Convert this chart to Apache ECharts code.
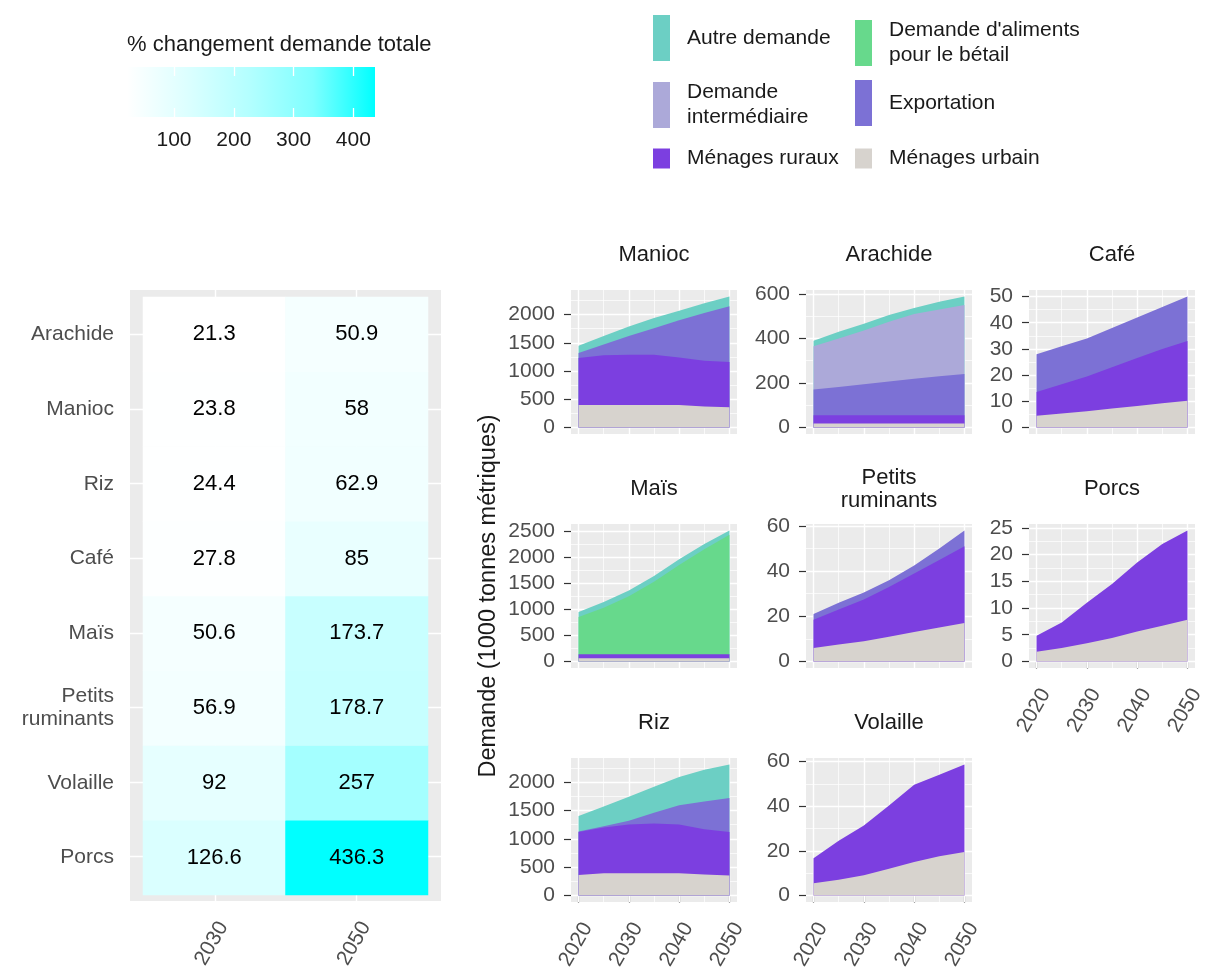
<!DOCTYPE html>
<html>
<head>
<meta charset="utf-8">
<script src="https://cdn.jsdelivr.net/npm/echarts@6/dist/echarts.min.js"></script>
<style>
  html, body { margin: 0; padding: 0; background: #fff; }
  #chart { width: 1207px; height: 972px; }
</style>
</head>
<body>
<div id="chart"></div>
<script>
// % de changement de la demande totale (carte de chaleur), du bas vers le haut
const heatProducts = ['Porcs', 'Volaille', 'Petits ruminants', 'Maïs', 'Café', 'Riz', 'Manioc', 'Arachide'];
const heatYears = ['2030', '2050'];
const change2030 = [126.6, 92, 56.9, 50.6, 27.8, 24.4, 23.8, 21.3];
const change2050 = [436.3, 257, 178.7, 173.7, 85, 62.9, 58, 50.9];
const colorbarTicks = [100, 200, 300, 400];

// demande par composante (1000 tonnes métriques)
const years = [2020, 2025, 2030, 2035, 2040, 2045, 2050];
const yearTicks = [2020, 2030, 2040, 2050];

const manioc = {
  'Ménages urbain': [400, 400, 400, 400, 400, 370, 360],
  'Ménages ruraux': [830, 880, 890, 890, 840, 810, 800],
  'Exportation': [90, 190, 330, 470, 660, 850, 990],
  'Autre demande': [130, 150, 170, 180, 170, 170, 170]
};
const arachide = {
  'Ménages urbain': [18, 18, 18, 18, 18, 18, 18],
  'Ménages ruraux': [37, 37, 37, 37, 37, 37, 37],
  'Exportation': [115, 127, 139, 151, 164, 175, 185],
  'Demande intermédiaire': [195, 218, 242, 269, 291, 300, 310],
  'Autre demande': [25, 30, 30, 30, 26, 35, 38]
};
const cafe = {
  'Ménages urbain': [4.5, 5.3, 6.2, 7.2, 8.2, 9.2, 10.2],
  'Ménages ruraux': [9, 11.2, 13.3, 15.8, 18.3, 20.8, 22.8],
  'Exportation': [14.5, 14.5, 14.5, 15, 15.5, 16, 17]
};
const mais = {
  'Ménages urbain': [60, 60, 60, 60, 60, 60, 60],
  'Ménages ruraux': [80, 80, 80, 80, 80, 80, 80],
  "Demande d'aliments pour le bétail": [710, 890, 1110, 1390, 1710, 2010, 2290],
  'Autre demande': [100, 110, 110, 110, 110, 100, 80]
};
const petitsRuminants = {
  'Ménages urbain': [6, 7.5, 9, 11, 13, 15, 17],
  'Ménages ruraux': [12.5, 15.5, 18.5, 22, 26, 30, 34],
  'Exportation': [2.5, 3, 3, 3, 3.5, 5, 7]
};
const porcs = {
  'Ménages urbain': [1.8, 2.5, 3.4, 4.4, 5.6, 6.7, 7.8],
  'Ménages ruraux': [3, 4.8, 7.6, 10.1, 12.9, 15.3, 16.7]
};
const riz = {
  'Ménages urbain': [360, 390, 390, 390, 390, 370, 350],
  'Ménages ruraux': [760, 810, 860, 880, 860, 800, 770],
  'Exportation': [10, 20, 70, 190, 340, 490, 600],
  'Autre demande': [270, 350, 420, 460, 500, 560, 590]
};
const volaille = {
  'Ménages urbain': [5.5, 7, 9, 12, 15, 17.5, 19.5],
  'Ménages ruraux': [11.2, 17.5, 22.3, 28.3, 34.6, 36.5, 39.1]
};

const maniocTicks = [0, 500, 1000, 1500, 2000];
const arachideTicks = [0, 200, 400, 600];
const cafeTicks = [0, 10, 20, 30, 40, 50];
const maisTicks = [0, 500, 1000, 1500, 2000, 2500];
const petitsTicks = [0, 20, 40, 60];
const porcsTicks = [0, 5, 10, 15, 20, 25];
const rizTicks = [0, 500, 1000, 1500, 2000];
const volailleTicks = [0, 20, 40, 60];

// ordre d'empilement (du bas vers le haut) et couleurs
const layerOrder = ['Ménages urbain', 'Ménages ruraux', 'Exportation', 'Demande intermédiaire',
  "Demande d'aliments pour le bétail", 'Autre demande'];
const layerColors = {
  'Autre demande': '#6ccfc4',
  "Demande d'aliments pour le bétail": '#67d98c',
  'Demande intermédiaire': '#aca9d9',
  'Exportation': '#7c71d5',
  'Ménages ruraux': '#7c3fe0',
  'Ménages urbain': '#d7d3ce'
};
// blanc -> cyan (interpolation proche de Lab)
const heatColors = ['#ffffff', '#dbffff', '#b2ffff', '#7effff', '#00ffff'];

const facets = [
  { title: 'Manioc', layers: manioc, ticks: maniocTicks, col: 0, row: 0 },
  { title: 'Arachide', layers: arachide, ticks: arachideTicks, col: 1, row: 0 },
  { title: 'Café', layers: cafe, ticks: cafeTicks, col: 2, row: 0 },
  { title: 'Maïs', layers: mais, ticks: maisTicks, col: 0, row: 1 },
  { title: 'Petits\nruminants', layers: petitsRuminants, ticks: petitsTicks, col: 1, row: 1 },
  { title: 'Porcs', layers: porcs, ticks: porcsTicks, col: 2, row: 1, bottom: true },
  { title: 'Riz', layers: riz, ticks: rizTicks, col: 0, row: 2, bottom: true },
  { title: 'Volaille', layers: volaille, ticks: volailleTicks, col: 1, row: 2, bottom: true }
];

const colLeft = [571, 806, 1029];
const rowTop = [290, 524, 758];
const panelW = 166;
const panelH = 144;

const FONT = '"Liberation Sans", Arial, sans-serif';
const axisGrey = '#4d4d4d';
const white = '#ffffff';

const grids = [];
const xAxes = [];
const yAxes = [];
const series = [];
const titles = [];

function gridLines(xs, ys, width) {
  return xs.map(v => ({ xAxis: v, lineStyle: { color: white, width: width, type: 'solid' } }))
    .concat(ys.map(v => ({ yAxis: v, lineStyle: { color: white, width: width, type: 'solid' } })));
}

// ---- petits graphiques d'aires empilées
facets.forEach((f, i) => {
  const g = grids.length;
  grids.push({
    left: colLeft[f.col], top: rowTop[f.row], width: panelW, height: panelH,
    show: true, backgroundColor: '#ebebeb', borderWidth: 0, outerBoundsMode: 'none'
  });
  const names = layerOrder.filter(n => f.layers[n]);
  // cumul des couches (empilement fait ici : les deux axes sont numériques)
  let run = years.map(() => 0);
  const tops = names.map(n => {
    run = run.map((c, k) => c + f.layers[n][k]);
    return run;
  });
  const top = Math.max(...tops[tops.length - 1]);
  const yMin = -0.05 * top;
  const yMax = 1.05 * top;
  const step = f.ticks[1] - f.ticks[0];
  const minorY = f.ticks.map(t => t + step / 2).filter(v => v > yMin && v < yMax);

  xAxes.push({
    type: 'value', gridIndex: g, min: 2018.5, max: 2051.5,
    axisLine: { show: false }, splitLine: { show: false },
    axisTick: { show: !!f.bottom, customValues: yearTicks, length: 7, lineStyle: { color: '#333', width: 1.2 } },
    axisLabel: {
      show: !!f.bottom, customValues: yearTicks, rotate: 60, verticalAlign: 'top',
      margin: 17, color: axisGrey, fontSize: 21, fontFamily: FONT, formatter: v => String(v)
    }
  });
  yAxes.push({
    type: 'value', gridIndex: g, min: yMin, max: yMax,
    axisLine: { show: false }, splitLine: { show: false },
    axisTick: { show: true, customValues: f.ticks, length: 7, lineStyle: { color: '#333', width: 1.2 } },
    axisLabel: { customValues: f.ticks, margin: 16, color: axisGrey, fontSize: 21, fontFamily: FONT, formatter: v => String(v) },
    name: f.title === 'Maïs' ? 'Demande (1000 tonnes métriques)' : '',
    nameLocation: 'middle', nameRotate: 90, nameGap: 70,
    nameTextStyle: { fontSize: 23.5, color: '#1a1a1a', fontFamily: FONT }
  });
  // grille blanche du panneau, sous les aires
  series.push({
    type: 'line', xAxisIndex: g, yAxisIndex: g, data: [], z: 1, silent: true,
    markLine: {
      z: 1, silent: true, symbol: ['none', 'none'], label: { show: false }, animation: false,
      data: gridLines([2025, 2035, 2045], minorY, 0.7).concat(gridLines(yearTicks, f.ticks, 1.4))
    }
  });
  // couche du haut dessinée en premier, la couche du bas recouvre les autres
  for (let j = names.length - 1; j >= 0; j--) {
    const n = names[j];
    series.push({
      type: 'line', name: n, xAxisIndex: g, yAxisIndex: g, z: 2,
      data: years.map((y, k) => [y, tops[j][k]]),
      symbol: 'none', showSymbol: false, lineStyle: { width: 0 },
      itemStyle: { color: layerColors[n] },
      areaStyle: { color: layerColors[n], opacity: 1, origin: 'auto' },
      emphasis: { disabled: true }
    });
  }
  const lines = f.title.split('\n').length;
  titles.push({
    text: f.title, left: colLeft[f.col] + panelW / 2, textAlign: 'center',
    top: rowTop[f.row] - 35 - (lines * 23) / 2, padding: 0,
    textStyle: { fontSize: 22, fontWeight: 'normal', color: '#1a1a1a', fontFamily: FONT, lineHeight: 23 }
  });
});

// ---- carte de chaleur : fond du panneau et grille
const hBg = grids.length;
grids.push({ left: 130, top: 290, width: 311, height: 611, show: true, backgroundColor: '#ebebeb', borderWidth: 0, outerBoundsMode: 'none' });
xAxes.push({ type: 'value', gridIndex: hBg, min: 0.4, max: 2.6, show: false });
yAxes.push({ type: 'value', gridIndex: hBg, min: 0.4, max: 8.6, show: false });
series.push({
  type: 'line', xAxisIndex: hBg, yAxisIndex: hBg, data: [], z: 1, silent: true,
  markLine: {
    z: 1, silent: true, symbol: ['none', 'none'], label: { show: false }, animation: false,
    data: gridLines([1, 2], heatProducts.map((_, k) => k + 1), 1.4)
  }
});

const hG = grids.length;
grids.push({ left: 143, top: 297, width: 285, height: 598, outerBoundsMode: 'none' });
xAxes.push({
  type: 'category', gridIndex: hG, data: heatYears, offset: 6,
  axisLine: { show: false }, splitLine: { show: false },
  axisTick: { alignWithLabel: true, length: 7, lineStyle: { color: '#333', width: 1.2 } },
  axisLabel: { rotate: 60, verticalAlign: 'top', margin: 17, color: axisGrey, fontSize: 21, fontFamily: FONT }
});
yAxes.push({
  type: 'category', gridIndex: hG, data: heatProducts, offset: 13,
  axisLine: { show: false }, splitLine: { show: false },
  axisTick: { alignWithLabel: true, length: 7, lineStyle: { color: '#333', width: 1.2 } },
  axisLabel: {
    margin: 16, color: axisGrey, fontSize: 21, fontFamily: FONT, lineHeight: 23,
    formatter: v => v.replace(' ', '\n')
  }
});
const heatData = [];
heatProducts.forEach((p, k) => {
  heatData.push([0, k, change2030[k]]);
  heatData.push([1, k, change2050[k]]);
});
const heatIndex = series.length;
series.push({
  type: 'heatmap', xAxisIndex: hG, yAxisIndex: hG, data: heatData, z: 3,
  itemStyle: { borderWidth: 0 },
  label: { show: true, formatter: p => String(p.value[2]), fontSize: 22, color: '#000', fontFamily: FONT },
  emphasis: { disabled: true }
});
const allChanges = change2030.concat(change2050);
const heatMin = Math.min(...allChanges);
const heatMax = Math.max(...allChanges);

// ---- barre de couleur de la légende
const cb = grids.length;
grids.push({
  left: 127, top: 67, width: 248, height: 50, show: true, borderWidth: 0, outerBoundsMode: 'none',
  backgroundColor: {
    type: 'linear', x: 0, y: 0, x2: 1, y2: 0,
    colorStops: heatColors.map((c, k) => ({ offset: k / (heatColors.length - 1), color: c }))
  }
});
xAxes.push({
  type: 'value', gridIndex: cb, min: heatMin, max: heatMax, position: 'bottom',
  axisLine: { show: false }, splitLine: { show: false },
  axisTick: { inside: true, customValues: colorbarTicks, length: 9, lineStyle: { color: white, width: 1.3 } },
  axisLabel: { customValues: colorbarTicks, margin: 13, color: '#1a1a1a', fontSize: 21, fontFamily: FONT, formatter: v => String(v) }
});
xAxes.push({
  type: 'value', gridIndex: cb, min: heatMin, max: heatMax, position: 'top',
  axisLine: { show: false }, splitLine: { show: false },
  axisTick: { inside: true, customValues: colorbarTicks, length: 9, lineStyle: { color: white, width: 1.3 } },
  axisLabel: { show: false }
});
yAxes.push({ type: 'value', gridIndex: cb, min: 0, max: 1, show: false });

titles.push({
  text: '% changement demande totale', left: 127, top: 34, padding: 0,
  textStyle: { fontSize: 22, fontWeight: 'normal', color: '#1a1a1a', fontFamily: FONT }
});

// ---- légende des composantes
const legendItems = [
  { name: 'Autre demande', left: 653, top: 15, h: 46, pad: 12 },
  { name: "Demande d'aliments pour le bétail", left: 855, top: 15, h: 46, pad: 6 },
  { name: 'Demande intermédiaire', left: 653, top: 80, h: 46, pad: 0 },
  { name: 'Exportation', left: 855, top: 80, h: 46, pad: 12 },
  { name: 'Ménages ruraux', left: 653, top: 145, h: 20, pad: 2 },
  { name: 'Ménages urbain', left: 855, top: 145, h: 20, pad: 2 }
];
const legendLabels = {
  "Demande d'aliments pour le bétail": "Demande d'aliments\npour le bétail",
  'Demande intermédiaire': 'Demande\nintermédiaire'
};
const legends = legendItems.map(it => ({
  left: it.left, top: it.top, padding: 0, orient: 'vertical',
  itemWidth: 17, itemHeight: it.h, icon: 'rect', selectedMode: false,
  itemStyle: { borderWidth: 0 },
  data: [it.name],
  formatter: n => legendLabels[n] || n,
  textStyle: { fontSize: 21, color: '#1a1a1a', fontFamily: FONT, lineHeight: 25, padding: [it.pad, 0, 0, 12] }
}));

const chart = echarts.init(document.getElementById('chart'), null, { renderer: 'canvas' });
chart.setOption({
  animation: false,
  backgroundColor: '#ffffff',
  textStyle: { fontFamily: FONT },
  title: titles,
  legend: legends,
  grid: grids,
  xAxis: xAxes,
  yAxis: yAxes,
  visualMap: {
    type: 'continuous', show: false, seriesIndex: heatIndex, dimension: 2,
    min: heatMin, max: heatMax, inRange: { color: heatColors }
  },
  series: series
});
</script>
</body>
</html>
